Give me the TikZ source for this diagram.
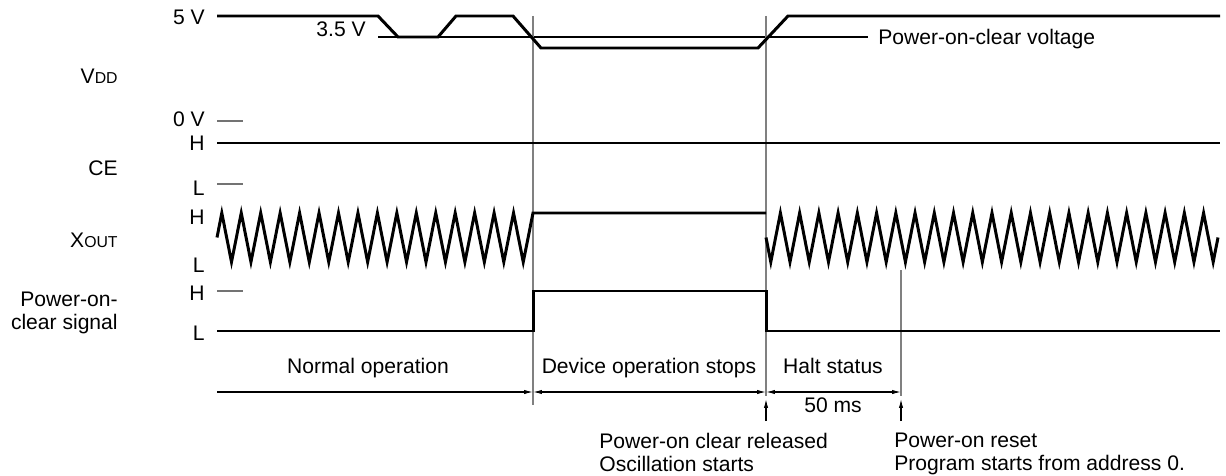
\documentclass[tikz,border=0pt]{standalone}
\usepackage{fontspec}
\setmainfont{Liberation Sans}
\usetikzlibrary{arrows.meta, positioning, calc}

\begin{document}
\begin{tikzpicture}[x=0.02cm, y=-0.02cm, font=\fontsize{12}{13}\selectfont]
        \tikzstyle{level} = [anchor=base east, inner sep=0pt]
        \tikzstyle{signame} = [anchor=base east, inner sep=0pt]
        \tikzstyle{note} = [anchor=north west, align=left, inner sep=0pt]
        \tikzstyle{span} = [anchor=base, inner sep=0pt]
        \tikzstyle{wave} = [line width=1.7pt, line join=miter]
        \tikzstyle{guide} = [line width=0.6pt]
        \tikzstyle{tick} = [line width=0.6pt, black!55]
        \tikzstyle{marker} = [line width=0.7pt, black!50]
        \tikzstyle{dim} = [line width=0.6pt, >={Latex[length=5pt, width=2.4pt]}]

        \useasboundingbox (0,0) rectangle (1226,476);

        % signal names
        \node (vdd) [signame] at (118,84) {V{\fontsize{9}{9}\selectfont DD}};
        \node (ce) [signame] at (118,175) {CE};
        \node (xout) [signame] at (118,247) {X{\fontsize{9}{9}\selectfont OUT}};
        \node (poc) [anchor=east, align=right, inner sep=0pt] at (118,313) {Power-on-\\clear signal};

        % levels
        \node (v5) [level] at (205,24.5) {5 V};
        \node (v0) [level] at (205,127) {0 V};
        \node (ceh) [level] at (205,151) {H};
        \node (cel) [level] at (205,195) {L};
        \node (xh) [level] at (205,224) {H};
        \node (xl) [level] at (205,272) {L};
        \node (ph) [level] at (205,300) {H};
        \node (pl) [level] at (205,340) {L};
        \node (v35) [level] at (366,37) {3.5 V};
        \node (pocv) [anchor=base west, inner sep=0pt] at (878,45) {Power-on-clear voltage};

        \draw [tick] (217,121) -- (243,121);
        \draw [tick] (217,184) -- (243,184);
        \draw [tick] (217,291) -- (243,291);

        % power-on-clear threshold
        \coordinate (thr0) at (378,37);
        \coordinate (thr1) at (868,37);
        \draw [guide] (thr0) -- (thr1);

        % markers
        \coordinate (stop) at (533,16);
        \coordinate (stopend) at (533,405);
        \coordinate (rel) at (766,16);
        \coordinate (relend) at (766,396);
        \coordinate (rst) at (901,270);
        \coordinate (rstend) at (901,396);
        \draw [marker] (stop) -- (stopend);
        \draw [marker] (rel) -- (relend);
        \draw [marker] (rst) -- (rstend);

        % waveforms
        \draw [wave] (217,16) -- (378,16) -- (398,37) -- (438,37) -- (456,16) -- (513,16)
                -- (541,48) -- (758,48) -- (788,16) -- (1220,16);
        \draw [wave] (217,143) -- (1220,143);
        \draw [wave] (217,237.5) \foreach \k in {0,...,15} {
                -- ({221.8+19.45*\k},213) -- ({231.5+19.45*\k},262) } -- (533,213) -- (766,213);
        \draw [wave] (766,237.5) -- (770.8,262) \foreach \k in {0,...,22} {
                -- ({780.4+19.235*\k},213) -- ({790.0+19.235*\k},262) } -- (1218,237.5);
        \draw [wave] (217,331) -- (533,331) -- (533,291) -- (766,291) -- (766,331) -- (1220,331);

        % phases
        \coordinate (d0) at (217,392);
        \coordinate (d1) at (533,392);
        \coordinate (d2) at (766,392);
        \coordinate (d3) at (901,392);
        \draw [dim, ->] (d0) -- (d1);
        \draw [dim, <->] (d1) -- (d2);
        \draw [dim, <->] (d2) -- (d3);
        \node (normal) [span] at (368,373) {Normal operation};
        \node (stops) [span] at (649,373) {Device operation stops};
        \node (halt) [span] at (833,373) {Halt status};
        \node (ms) [span] at (833,412) {50 ms};

        \coordinate (relfoot) at (766,421);
        \coordinate (reltip) at (766,399);
        \coordinate (rstfoot) at (901,421);
        \coordinate (rsttip) at (901,399);
        \draw [dim, ->] (relfoot) -- (reltip);
        \draw [dim, ->] (rstfoot) -- (rsttip);

        \node (relnote) [note] at (599,433) {Power-on clear released\\Oscillation starts};
        \node (rstnote) [note] at (894,433) {Power-on reset\\Program starts from address 0.};
    \end{tikzpicture}
\end{document}
